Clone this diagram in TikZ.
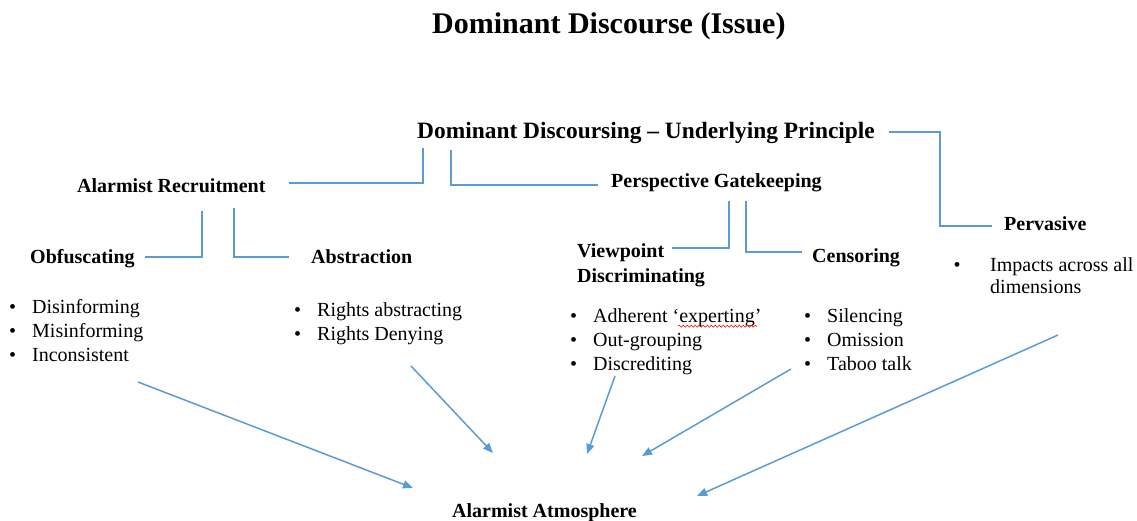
\documentclass[tikz,border=0pt]{standalone}
\usepackage{fontspec}
\setmainfont{Liberation Serif}
\usetikzlibrary{arrows.meta,decorations.pathmorphing}
\definecolor{connblue}{HTML}{5B9BD5}
\tikzset{
  lbl/.style={inner sep=0pt, anchor=base west, font=\fontsize{20}{24}\selectfont\bfseries},
  lst/.style={inner sep=0pt, anchor=north west, align=left, font=\fontsize{20}{24}\selectfont},
  elbow/.style={draw=connblue, line width=1.5pt},
  arr/.style={draw=connblue, line width=1.5pt, -{Triangle[length=10pt,width=8pt]}},
  spell/.style={draw=red, line width=0.6pt, decorate, decoration={snake, amplitude=1pt, segment length=4pt}},
}
\newcommand{\bul}{\makebox[23pt][l]{\textbullet}}
\begin{document}
\begin{tikzpicture}[x=1pt,y=-1pt]
\useasboundingbox (0,0) rectangle (1137,521);
% headings
\node[lbl, font=\fontsize{30}{36}\selectfont\bfseries] (title) at (432,34) {Dominant Discourse (Issue)};
\node[lbl, font=\fontsize{23.4}{28}\selectfont\bfseries] (dom) at (417,139) {Dominant Discoursing – Underlying Principle};
\node[lbl] (ar) at (77,193) {Alarmist Recruitment};
\node[lbl] (pg) at (611,188) {Perspective Gatekeeping};
\node[lbl] (pv) at (1004,231) {Pervasive};
\node[lbl] (ob) at (30,264) {Obfuscating};
\node[lbl] (ab) at (311,264) {Abstraction};
\node[lbl, anchor=north west, align=left, font=\fontsize{20}{25}\selectfont\bfseries] (vp) at (577,239.5) {\strut Viewpoint\\\strut Discriminating};
\node[lbl] (ce) at (812,262) {Censoring};
\node[lbl] (atm) at (452,517) {Alarmist Atmosphere};
% lists
\node[lst] (obl) at (9,296.2) {\strut\bul Disinforming\\\strut\bul Misinforming\\\strut\bul Inconsistent};
\node[lst] (abl) at (294,299.2) {\strut\bul Rights abstracting\\\strut\bul Rights Denying};
\node[lst] (vpl) at (570,305.2) {\strut\bul Adherent ‘experting’\\\strut\bul Out-grouping\\\strut\bul Discrediting};
\node[lst] (cel) at (804,305.2) {\strut\bul Silencing\\\strut\bul Omission\\\strut\bul Taboo talk};
\node[lst, font=\fontsize{20}{22}\selectfont] (pvl) at (953.5,255.6) {\strut\makebox[36.5pt][l]{\textbullet}Impacts across all\\\strut\hspace*{36.5pt}dimensions};
% spell-check mark
\draw[spell] ([shift={(108,21)}]vpl.north west) -- ([shift={(187,21)}]vpl.north west);
% elbow connectors
\draw[elbow] ([shift={(23,-10)}]ar.base east) -| ([shift={(6,9)}]dom.base west);
\draw[elbow] ([shift={(34,11)}]dom.base west) |- ([shift={(-13,-3)}]pg.base west);
\draw[elbow] ([shift={(14,-7)}]dom.base east) -- ++(51,0) |- ([shift={(-12,-5)}]pv.base west);
\draw[elbow] ([shift={(125,18)}]ar.base west) |- ([shift={(10,-7)}]ob.base east);
\draw[elbow] ([shift={(157,15)}]ar.base west) |- ([shift={(-22,-7)}]ab.base west);
\draw[elbow] ([shift={(118,13)}]pg.base west) |- ([shift={(95,8.5)}]vp.north west);
\draw[elbow] ([shift={(135,13)}]pg.base west) |- ([shift={(-10,-10)}]ce.base west);
% arrows to the atmosphere
\draw[arr] ([shift={(129,85.8)}]obl.north west) -- ([shift={(-39,-29)}]atm.base west);
\draw[arr] ([shift={(117,66.8)}]abl.north west) -- ([shift={(41,-64)}]atm.base west);
\draw[arr] ([shift={(45,70.8)}]vpl.north west) -- ([shift={(135,-63)}]atm.base west);
\draw[arr] ([shift={(-13,63.8)}]cel.north west) -- ([shift={(190,-61)}]atm.base west);
\draw[arr] ([shift={(104.5,79.4)}]pvl.north west) -- ([shift={(245,-21)}]atm.base west);
\end{tikzpicture}
\end{document}
